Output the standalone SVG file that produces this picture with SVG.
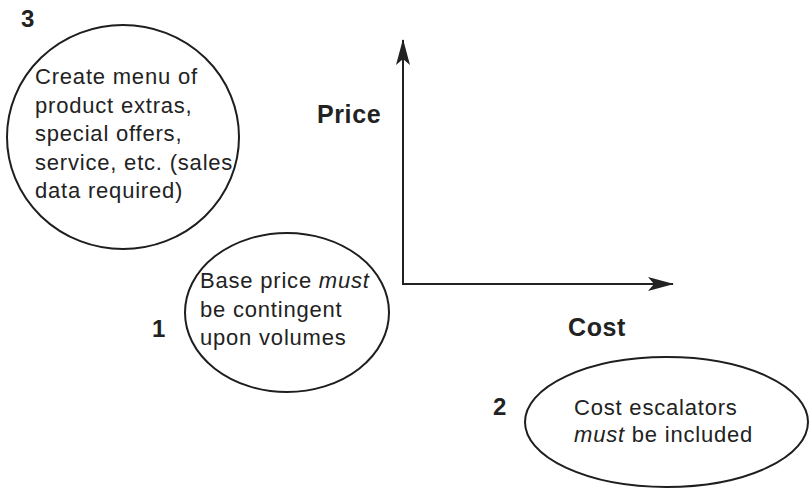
<svg xmlns="http://www.w3.org/2000/svg" width="810" height="488" viewBox="0 0 810 488">
  <style>
    .shape { fill: none; stroke: #1e1e1e; stroke-width: 2; }
    .body { font-family: "Liberation Sans", Arial, sans-serif; font-size: 22px; letter-spacing: 0.8px; fill: #222; }
    .num { font-family: "Liberation Sans", Arial, sans-serif; font-size: 24px; font-weight: bold; fill: #222; }
    .axis-label { font-family: "Liberation Sans", Arial, sans-serif; font-size: 25px; font-weight: bold; letter-spacing: 0.6px; fill: #222; }
    .axis { fill: none; stroke: #222; stroke-width: 2; }
    .head { fill: #222; stroke: none; }
  </style>
  <defs>
    <marker id="arrow" viewBox="0 0 26 14" refX="25" refY="7" markerWidth="26" markerHeight="14" markerUnits="userSpaceOnUse" orient="auto">
      <path class="head" d="M0,0 L26,7 L0,14 L6,7 Z"/>
    </marker>
  </defs>
  <rect width="810" height="488" fill="#ffffff"/>

  <g id="connectors">
    <path class="axis" d="M403,285 L403,40" marker-end="url(#arrow)"/>
    <path class="axis" d="M402,284 L673,284" marker-end="url(#arrow)"/>
  </g>

  <g id="axis-price">
    <text class="axis-label" x="317" y="123">Price</text>
  </g>
  <g id="axis-cost">
    <text class="axis-label" x="568" y="336">Cost</text>
  </g>

  <g id="node3">
    <ellipse class="shape" cx="123" cy="137" rx="116" ry="112"/>
    <text class="num" x="21" y="27">3</text>
    <text class="body" x="35" y="84">Create menu of</text>
    <text class="body" x="35" y="113">product extras,</text>
    <text class="body" x="35" y="141">special offers,</text>
    <text class="body" x="35" y="170">service, etc. (sales</text>
    <text class="body" x="35" y="198">data required)</text>
  </g>

  <g id="node1">
    <ellipse class="shape" cx="287" cy="312.5" rx="102" ry="79.5"/>
    <text class="num" x="152" y="337">1</text>
    <text class="body" x="200" y="288">Base price <tspan font-style="italic">must</tspan></text>
    <text class="body" x="200" y="316.5">be contingent</text>
    <text class="body" x="200" y="345">upon volumes</text>
  </g>

  <g id="node2">
    <ellipse class="shape" cx="666.5" cy="422" rx="141.5" ry="65"/>
    <text class="num" x="493" y="415">2</text>
    <text class="body" x="574" y="415">Cost escalators</text>
    <text class="body" x="574" y="442"><tspan font-style="italic">must</tspan> be included</text>
  </g>
</svg>
